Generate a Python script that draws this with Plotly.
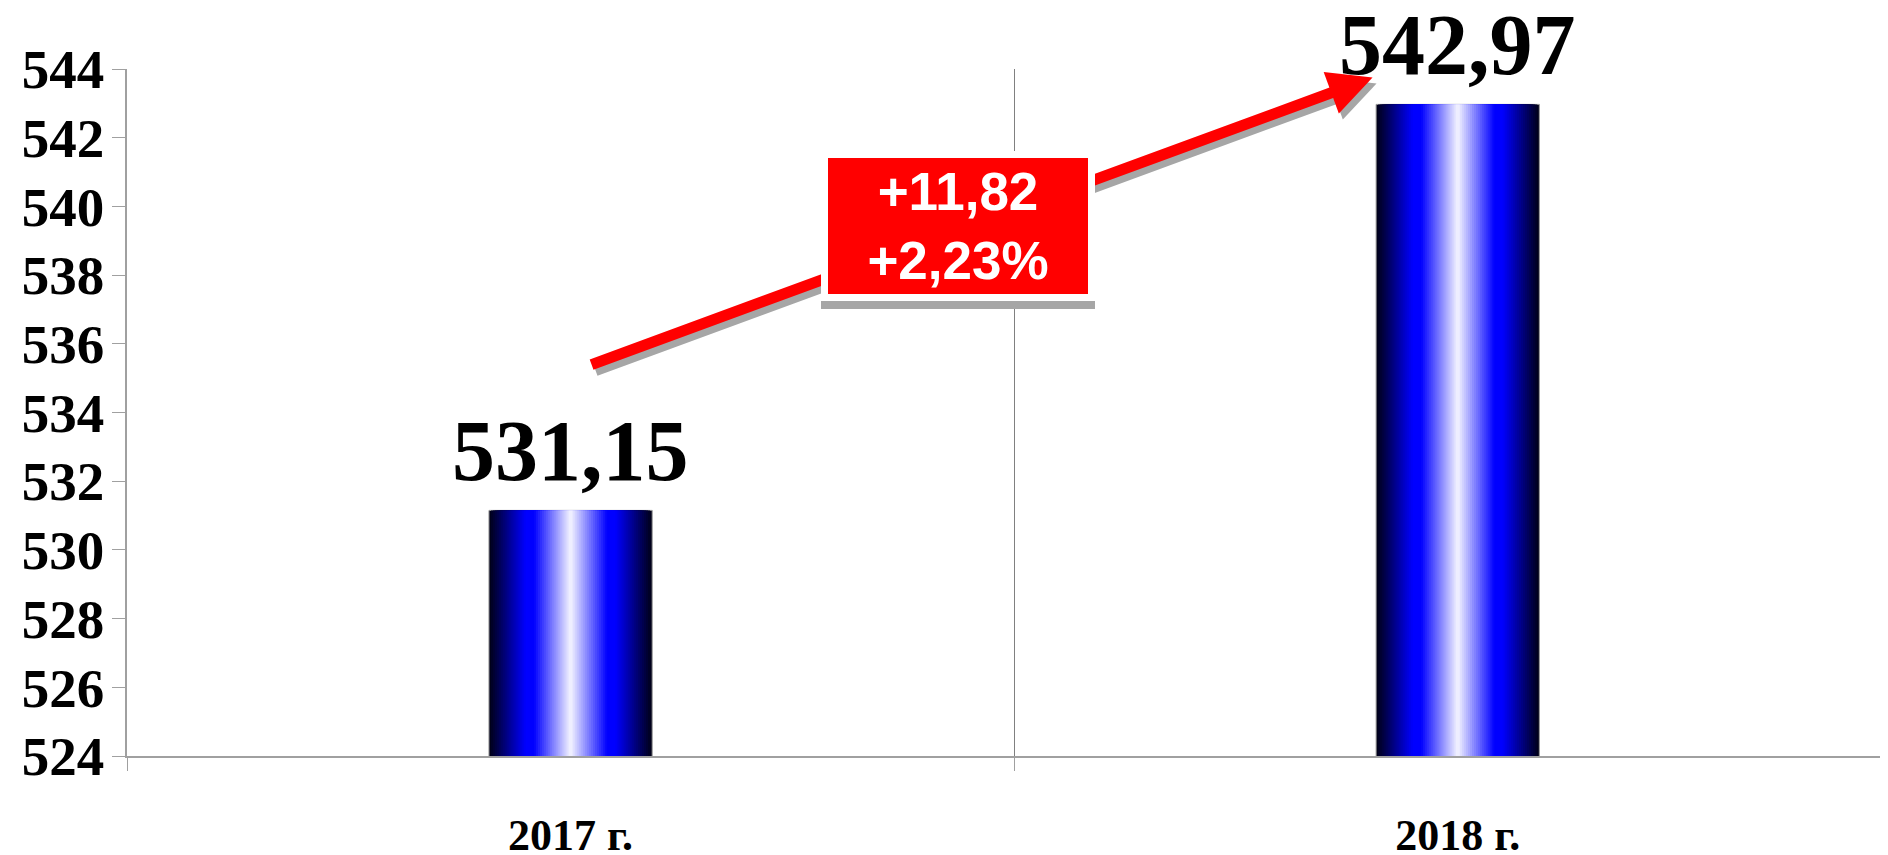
import plotly.graph_objects as go

# Data
years = ["2017 г.", "2018 г."]
values = [531.15, 542.97]
y_ticks = [524, 526, 528, 530, 532, 534, 536, 538, 540, 542, 544]


def fmt(v, decimals=2):
    return f"{v:.{decimals}f}".replace(".", ",")


def bar_color(t):
    # t = 0 at the bar edge, t = 1 at the centre: navy -> blue -> white
    if t < 0.45:
        k = t / 0.45
        return f"rgb(0,0,{int(20 + k * 235)})"
    if t < 0.55:
        return "rgb(0,0,255)"
    k = (t - 0.55) / 0.45
    c = int(k * 245)
    return f"rgb({c},{c},255)"


fig = go.Figure()

# Cylinder-like shading: nested overlaid bars, each narrower and lighter
bar_width = 0.184
n_bands = 40
for k in range(n_bands):
    t = (k + 0.5) / n_bands
    fig.add_trace(go.Bar(
        x=years,
        y=values,
        width=bar_width * (1 - k / n_bands),
        marker=dict(color=bar_color(t),
                    line=dict(width=1 if k == 0 else 0, color="#9a9a9a")),
        hoverinfo="skip",
        showlegend=False,
    ))

# Value labels above the bars
for yr, v in zip(years, values):
    fig.add_annotation(
        x=yr, y=v, text=fmt(v), showarrow=False,
        yanchor="bottom", yshift=9,
        font=dict(family="Liberation Serif", size=86, color="black", weight="bold"),
    )

# Growth arrow (shadow first, then red)
arrow_start = (0.022, 535.38)
arrow_end = (0.904, 543.75)
for color, dx, dy in [("#a6a6a6", 4, -6), ("#ff0000", 0, 0)]:
    fig.add_annotation(
        x=arrow_end[0], y=arrow_end[1], ax=arrow_start[0], ay=arrow_start[1],
        xref="x", yref="y", axref="x", ayref="y",
        text="", showarrow=True, arrowhead=2, arrowsize=0.8, arrowwidth=11,
        arrowcolor=color, xshift=dx, yshift=dy,
    )

# Change box (grey drop shadow, then the red box)
diff = values[1] - values[0]
pct = diff / values[0] * 100
box_text = f"+{fmt(diff)}<br>+{fmt(pct)}%"
box_pos = (0.437, 539.42)
box_style = dict(xref="x", yref="y", showarrow=False, width=252, height=128,
                 borderpad=4, borderwidth=7, align="center", valign="middle")
fig.add_annotation(x=box_pos[0], y=box_pos[1], text=" ", yshift=-8,
                   bgcolor="#a6a6a6", bordercolor="#a6a6a6", **box_style)
fig.add_annotation(
    x=box_pos[0], y=box_pos[1], text=box_text,
    bgcolor="#ff0000", bordercolor="white",
    font=dict(family="Liberation Sans", size=53, color="white", weight="bold"),
    **box_style,
)

# the page body keeps its default 8px margin, so the figure is 8px smaller
fig.update_layout(
    width=1880, height=847,
    barmode="overlay",
    plot_bgcolor="white", paper_bgcolor="white",
    margin=dict(l=119, r=0, t=61, b=99),
    showlegend=False,
    xaxis=dict(
        range=[-0.5, 1.485],
        automargin=False,
        tickson="boundaries",
        showgrid=True, gridcolor="#808080", gridwidth=1,
        showline=True, linecolor="#a0a0a0", linewidth=1.5,
        ticks="outside", ticklen=13, tickcolor="#a0a0a0",
        ticklabelstandoff=39,
        tickfont=dict(family="Liberation Serif", size=44, color="black", weight="bold"),
    ),
    yaxis=dict(
        range=[524, 544],
        automargin=False,
        tickvals=y_ticks,
        showgrid=False, zeroline=False,
        showline=True, linecolor="#a0a0a0", linewidth=1.5,
        ticks="outside", ticklen=13, tickcolor="#a0a0a0",
        ticklabelstandoff=-3,
        tickfont=dict(family="Liberation Serif", size=55, color="black", weight="bold"),
    ),
)

fig.write_html("out.html")
